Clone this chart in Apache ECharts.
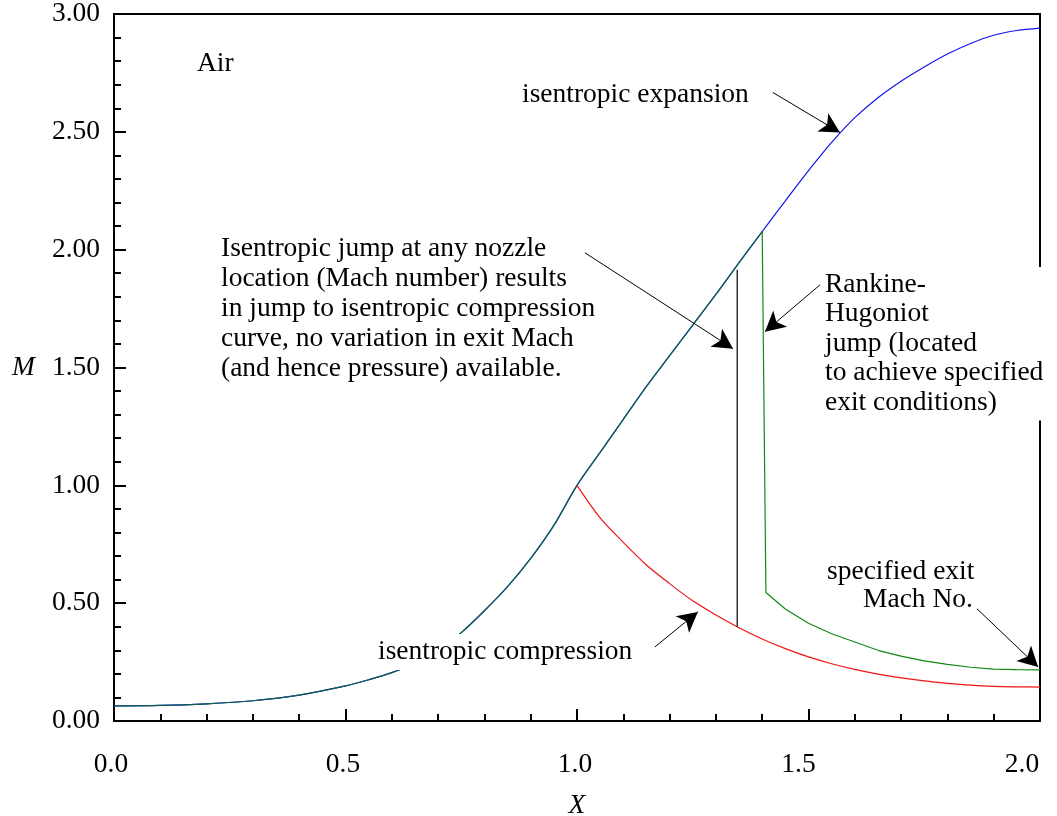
<!DOCTYPE html>
<html>
<head>
<meta charset="utf-8">
<title>Nozzle Mach number</title>
<script src="https://cdn.jsdelivr.net/npm/echarts@6/dist/echarts.min.js"></script>
<style>
  html, body { margin: 0; padding: 0; background: #fff; }
  #chart { width: 1057px; height: 816px; }
</style>
</head>
<body>
<div id="chart"></div>
<script>
// isentropic curve (subsonic -> throat -> supersonic expansion)
const expX = [0, 0.1, 0.2, 0.3, 0.4, 0.5, 0.55, 0.6, 0.65, 0.7, 0.75, 0.8, 0.85, 0.9, 0.95, 1.0,
  1.05, 1.1, 1.15, 1.2, 1.25, 1.3, 1.35, 1.4, 1.45, 1.5, 1.55, 1.6, 1.65, 1.7, 1.75, 1.8, 1.85, 1.9, 1.95, 2.0]
const expM = [0.064, 0.066, 0.073, 0.086, 0.110, 0.149, 0.175, 0.205, 0.245, 0.300, 0.375, 0.468, 0.570, 0.690, 0.830, 1.000,
  1.140, 1.280, 1.420, 1.550, 1.680, 1.810, 1.945, 2.077, 2.207, 2.335, 2.455, 2.560, 2.645, 2.715, 2.775, 2.830, 2.875, 2.910, 2.930, 2.940]

// Rankine-Hugoniot jump and subsonic branch after it
const shockX = [1.4, 1.408, 1.45, 1.5, 1.55, 1.6, 1.65, 1.7, 1.75, 1.8, 1.85, 1.9, 1.95, 2.0]
const shockM = [2.077, 0.545, 0.475, 0.415, 0.370, 0.335, 0.300, 0.275, 0.255, 0.240, 0.228, 0.220, 0.218, 0.217]

// isentropic compression branch
const compX = [1.0, 1.05, 1.1, 1.15, 1.2, 1.25, 1.3, 1.35, 1.4, 1.45, 1.5, 1.55, 1.6, 1.65, 1.7, 1.75, 1.8, 1.85, 1.9, 1.95, 2.0]
const compM = [1.0, 0.862, 0.758, 0.662, 0.583, 0.510, 0.450, 0.396, 0.348, 0.307, 0.272, 0.243, 0.219, 0.199, 0.183, 0.170, 0.160, 0.152, 0.147, 0.145, 0.144]

// isentropic jump line
const jumpX = [1.346, 1.346]
const jumpM = [0.400, 1.915]

// annotation arrows: [fromX, fromM, toX, toM]
const arrows = [
  [1.423, 2.667, 1.568, 2.497],
  [1.017, 1.987, 1.337, 1.580],
  [1.525, 1.851, 1.406, 1.652],
  [1.168, 0.314, 1.261, 0.463],
  [1.864, 0.476, 1.996, 0.229]
]

const xTickLabels = ['0.0', '0.5', '1.0', '1.5', '2.0']
const yTickLabels = ['0.00', '0.50', '1.00', '1.50', '2.00', '2.50', '3.00']

const FONT = '"Liberation Serif", "Times New Roman", serif'
const FS = 27.5
const pairs = (xs, ys) => xs.map((x, i) => [x, ys[i]])
const overlap = pairs(expX, expM).filter(p => p[0] <= 1.4)

// the original x labels drift left towards the right end
const xLabelShift = [6, 5, 4, 20, 36]
const xRich = {}
xLabelShift.forEach((s, i) => {
  xRich['t' + i] = { fontFamily: FONT, fontSize: FS, color: '#000', padding: [0, s, 0, 0] }
})

const chart = echarts.init(document.getElementById('chart'))

const axisCommon = {
  type: 'value',
  interval: 0.5,
  axisLine: { show: true, onZero: false, lineStyle: { color: '#000', width: 2 } },
  axisTick: { show: true, inside: true, length: 12, lineStyle: { color: '#000', width: 2 } },
  minorTick: { show: true, splitNumber: 5, length: 7, lineStyle: { color: '#000', width: 2 } },
  splitLine: { show: false },
  minorSplitLine: { show: false },
  nameTextStyle: { fontFamily: FONT, fontSize: FS, fontStyle: 'italic', color: '#000' }
}

const curve = (data, color, z, smooth) => ({
  type: 'line',
  data: data,
  symbol: 'none',
  showSymbol: false,
  silent: true,
  smooth: smooth || false,
  z: z,
  lineStyle: { color: color, width: 1.2 }
})

const txt = (text, x, y, extra) => ({
  type: 'text', z: 100,
  style: Object.assign({ text: text, x: x, y: y, verticalAlign: 'middle', font: FS + 'px ' + FONT, fill: '#000' }, extra || {})
})

chart.setOption({
  animation: false,
  backgroundColor: '#fff',
  grid: {
    left: 114, right: 17, top: 14, bottom: 95,
    outerBoundsMode: 'none', containLabel: false,
    show: true, borderColor: '#000', borderWidth: 2
  },
  xAxis: Object.assign({}, axisCommon, {
    min: 0, max: 2,
    name: 'X', nameLocation: 'middle', nameGap: 71,
    axisLabel: {
      margin: 30, fontFamily: FONT, fontSize: FS, color: '#000',
      rich: xRich,
      formatter: v => {
        const i = Math.round(v / 0.5)
        return '{t' + i + '|' + xTickLabels[i] + '}'
      }
    }
  }),
  yAxis: Object.assign({}, axisCommon, {
    min: 0, max: 3,
    name: 'M', nameLocation: 'middle', nameRotate: 0, nameGap: 79,
    axisLabel: {
      margin: 14, fontFamily: FONT, fontSize: FS, color: '#000',
      formatter: v => yTickLabels[Math.round(v / 0.5)]
    }
  }),
  series: [
    curve(pairs(expX, expM), '#1414f0', 2, 0.3),
    curve(pairs(compX, compM), '#ee1414', 2, 0.3),
    curve(pairs(shockX, shockM), '#128a12', 3),
    curve(overlap, '#0d5f48', 4, 0.3),
    Object.assign(curve(pairs(jumpX, jumpM), '#000', 3), {
      markLine: {
        silent: true,
        symbol: ['none', 'arrow'],
        symbolSize: [16, 20],
        label: { show: false },
        lineStyle: { color: '#000', width: 1, type: 'solid' },
        data: arrows.map(a => [{ coord: [a[0], a[1]] }, { coord: [a[2], a[3]] }])
      }
    })
  ],
  graphic: [
    txt('Air', 197, 64),
    txt('isentropic expansion', 522, 95),
    txt('Isentropic jump at any nozzle\nlocation (Mach number) results\nin jump to isentropic compression\ncurve, no variation in exit Mach\n(and hence pressure) available.',
      221, 234, { verticalAlign: 'top', lineHeight: 30 }),
    txt('Rankine-\nHugoniot\njump (located\nto achieve specified\nexit conditions)',
      823, 267, { verticalAlign: 'top', lineHeight: 29.5, backgroundColor: '#fff', padding: [3, 8, 3, 2] }),
    txt('specified exit', 827, 572),
    txt('Mach No.', 863, 600),
    txt('isentropic compression', 375, 652, { backgroundColor: '#fff', padding: [4, 3, 4, 3] })
  ]
})
</script>
</body>
</html>
